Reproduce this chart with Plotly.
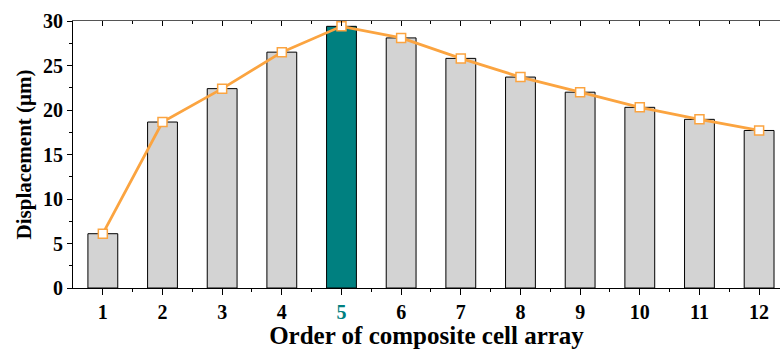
import plotly.graph_objects as go

orders = list(range(1, 13))
displacement = [6.1, 18.65, 22.4, 26.5, 29.4, 28.1, 25.8, 23.7, 22.0, 20.3, 18.95, 17.7]
highlight_order = 5
tick_labels = [str(o) for o in orders]

GRAY = "#D3D3D3"
TEAL = "#008080"
ORANGE = "#FBA440"
FONT = "Liberation Serif"

bar_colors = [TEAL if o == highlight_order else GRAY for o in orders]
ticktext = [f'<span style="color:{TEAL}">{t}</span>' if o == highlight_order else t
            for o, t in zip(orders, tick_labels)]

fig = go.Figure()
fig.add_trace(go.Bar(x=orders, y=displacement, width=0.5,
                     marker=dict(color=bar_colors, line=dict(color="black", width=1)),
                     showlegend=False))
fig.add_trace(go.Scatter(x=orders, y=displacement, mode="lines+markers",
                         line=dict(color=ORANGE, width=2.8),
                         marker=dict(symbol="square", size=9, color="white",
                                     line=dict(color=ORANGE, width=1.5)),
                         showlegend=False))

xr = [0.5, 12.35]
fig.update_layout(
    width=780, height=349,
    margin=dict(l=73, r=0, t=21, b=61),
    plot_bgcolor="white", paper_bgcolor="white",
    font=dict(family=FONT, color="black"),
    xaxis=dict(range=xr, tickvals=orders, ticktext=ticktext,
               ticks="outside", ticklen=6, tickwidth=1, tickcolor="black",
               minor=dict(tickvals=[o + 0.5 for o in orders[:-1]], ticks="outside",
                          ticklen=3, tickcolor="black"),
               showline=True, linecolor="black", linewidth=1.2, showgrid=False,
               tickfont=dict(size=20, family=FONT, weight="bold"),
               title=dict(text="<b>Order of composite cell array</b>",
                          font=dict(size=25, family=FONT), standoff=7),
               zeroline=False),
    xaxis2=dict(range=xr, overlaying="x", side="top", matches="x",
                tickvals=orders, showticklabels=False,
                ticks="inside", ticklen=5, tickwidth=1, tickcolor="black",
                minor=dict(tickvals=[o + 0.5 for o in orders[:-1]], ticks="inside",
                           ticklen=3, tickcolor="black"),
                showline=True, linecolor="#555555", linewidth=1.2, showgrid=False),
    yaxis=dict(range=[0, 30], tickvals=[0, 5, 10, 15, 20, 25, 30],
               ticks="outside", ticklen=5, tickwidth=1, tickcolor="black",
               minor=dict(dtick=2.5, ticks="outside", ticklen=3, tickcolor="black"),
               showline=True, linecolor="black", linewidth=1.2, showgrid=False,
               zeroline=False,
               tickfont=dict(size=20, family=FONT, weight="bold"),
               title=dict(text="<b>Displacement (μm)</b>",
                          font=dict(size=21, family=FONT), standoff=5)),
)
# invisible trace to activate top axis
fig.add_trace(go.Scatter(x=[orders[0]], y=[0], xaxis="x2", mode="markers",
                         marker=dict(opacity=0), showlegend=False, hoverinfo="skip"))
fig.write_html("out.html")
